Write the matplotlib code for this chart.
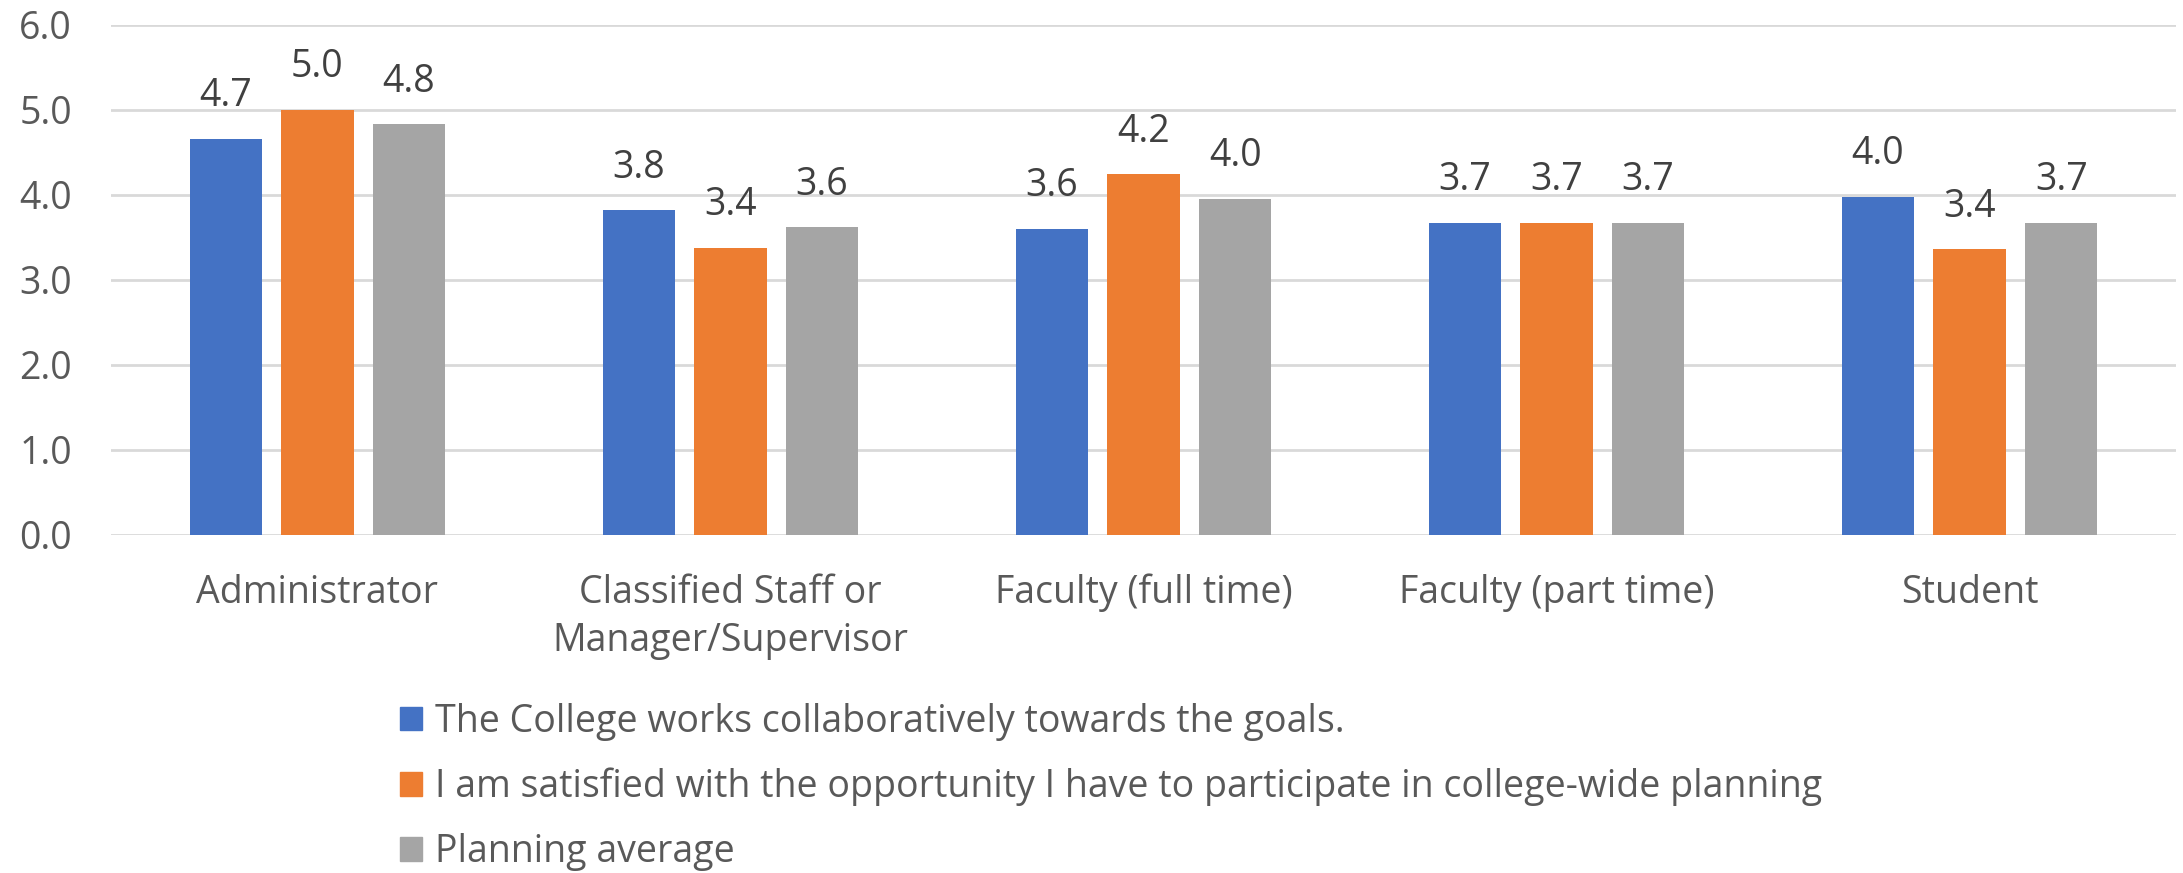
import numpy as np
import matplotlib.pyplot as plt
from matplotlib.patches import Patch

# data
categories = ['Administrator', 'Classified Staff or\nManager/Supervisor', 'Faculty (full time)',
              'Faculty (part time)', 'Student']
series_names = ['The College works collaboratively towards the goals.',
                'I am satisfied with the opportunity I have to participate in college-wide planning',
                'Planning average']
collab = [4.66, 3.82, 3.60, 3.67, 3.98]
satisfied = [5.00, 3.38, 4.24, 3.67, 3.36]
planning_avg = [4.83, 3.62, 3.95, 3.67, 3.67]
yticks = [0, 1, 2, 3, 4, 5, 6]

colors = ['#4472C4', '#ED7D31', '#A5A5A5']
plt.rcParams['font.family'] = ['Open Sans', 'DejaVu Sans']
fs = 27

fig = plt.figure(figsize=(21.83, 8.73), dpi=100)
ax = fig.add_axes([0.0508, 0.3876, 0.946, 0.5838])

x = np.arange(len(categories))
width = 0.175
stride = 0.222
for i, vals in enumerate([collab, satisfied, planning_avg]):
    bars = ax.bar(x + (i - 1) * stride, vals, width, color=colors[i], zorder=3)
    for b, v in zip(bars, vals):
        ax.annotate(f'{v:.1f}', (b.get_x() + b.get_width() / 2, v), xytext=(0, 17),
                    textcoords='offset points', ha='center', va='bottom',
                    fontsize=fs, color='#404040')

ax.set_xlim(-0.5, len(categories) - 0.5)
ax.set_ylim(0, 6)
ax.set_yticks(yticks)
ax.set_yticklabels([f'{t:.1f}' for t in yticks])
ax.set_xticks(x)
ax.set_xticklabels(categories, linespacing=1.35)
ax.tick_params(axis='y', length=0, pad=28, labelsize=fs, labelcolor='#595959')
ax.tick_params(axis='x', length=0, pad=28, labelsize=fs, labelcolor='#595959')
ax.grid(axis='y', color='#D9D9D9', linewidth=2, zorder=0)
for s in ax.spines.values():
    s.set_visible(False)

handles = [Patch(color=c, label=n) for c, n in zip(colors, series_names)]
fig.legend(handles=handles, loc='upper left', bbox_to_anchor=(0.1832, 0.195), frameon=False,
           fontsize=fs, handlelength=0.58, handleheight=0.58, handletextpad=0.35,
           labelspacing=0.72, borderpad=0, borderaxespad=0, labelcolor='#595959')

fig.savefig('out.png', dpi=100)
